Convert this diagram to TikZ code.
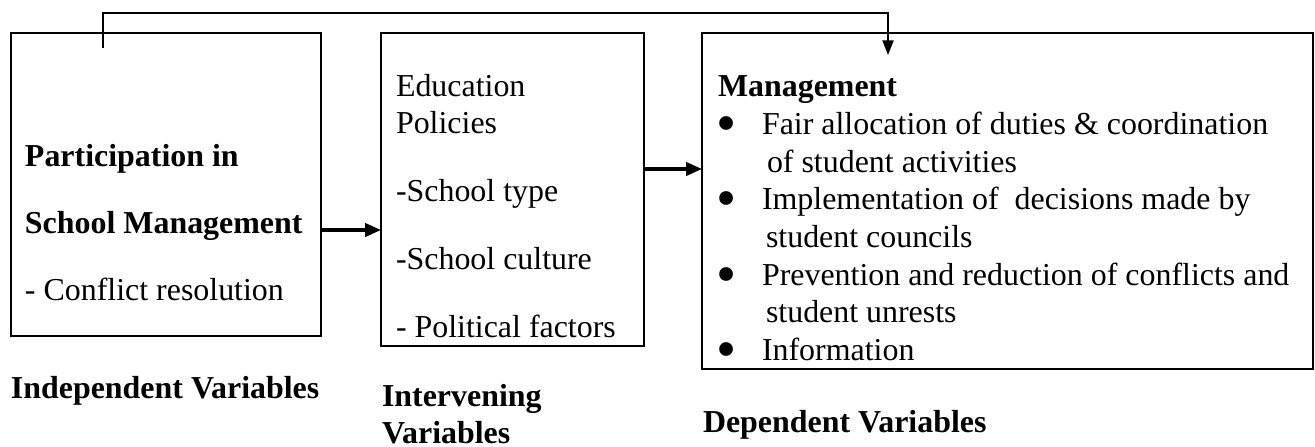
\documentclass[tikz,border=0pt]{standalone}
\usepackage{fontspec}
\setmainfont{Liberation Serif}
\usetikzlibrary{arrows.meta,fit}
\tikzset{
 box/.style={draw, line width=0.75pt, inner sep=0pt, outer sep=0pt},
 txt/.style={anchor=base west, inner sep=0pt, outer sep=0pt},
 dot/.style={txt, scale=1.8},
 flow/.style={line width=1.2pt, -{Triangle[length=6pt,width=5pt]}},
 link/.style={line width=0.55pt, -{Triangle[length=5.5pt,width=4.2pt]}}
}
\begin{document}
\begin{tikzpicture}[x=0.01322cm, y=-0.01322cm, font=\fontsize{12}{14}\selectfont]
 \useasboundingbox (0,0) rectangle (1315,446);
 % the three boxes
 \node[box, fit={(11,33) (321,336)}] (lbox) {};
 \node[box, fit={(381,33) (644,346)}] (mbox) {};
 \node[box, fit={(702,33) (1313,369)}] (rbox) {};
 % left box
 \node[txt] (pa) at (25,166) {\textbf{Participation in}};
 \node[txt] (sm) at (25,233) {\textbf{School Management}};
 \node[txt] (cr) at (25,300) {- Conflict resolution};
 % middle box
 \node[txt] (ed) at (396,96) {Education};
 \node[txt] (po) at (396,133) {Policies};
 \node[txt] (st) at (396,201) {-School type};
 \node[txt] (sc) at (396,269) {-School culture};
 \node[txt] (pf) at (396,337) {- Political factors};
 % right box
 \node[txt] (mg) at (718,96) {\textbf{Management}};
 \foreach \y/\n in {142/b1,217/b2,293/b3,368/b4}
  \node[dot] (\n) at (716,\y) {\textbullet};
 \node[txt] (fa) at (762,134) {Fair allocation of duties \& coordination};
 \node[txt] (fb) at (767,172) {of student activities};
 \node[txt] (ia) at (762,209) {Implementation of\ \ decisions made by};
 \node[txt] (ib) at (766,247) {student councils};
 \node[txt] (pa2) at (762,285) {Prevention and reduction of conflicts and};
 \node[txt] (pb) at (766,322) {student unrests};
 \node[txt] (in) at (762,360) {Information};
 % labels under the boxes
 \node[txt] (iv) at (11,398) {\textbf{Independent Variables}};
 \node[txt] (tv1) at (382,406) {\textbf{Intervening}};
 \node[txt] (tv2) at (382,443) {\textbf{Variables}};
 \node[txt] (dv) at (703,432) {\textbf{Dependent Variables}};
 % connectors
 \coordinate (r1) at (0,230);
 \coordinate (r2) at (0,169);
 \draw[flow] (lbox.east |- r1) -- (mbox.west |- r1);
 \draw[flow] (mbox.east |- r2) -- (rbox.west |- r2);
 \coordinate (fbA) at (103,48);
 \coordinate (fbB) at (888,55);
 \coordinate (top) at (0,13);
 \draw[link] (fbA) -- (fbA |- top) -| (fbB);
\end{tikzpicture}
\end{document}
